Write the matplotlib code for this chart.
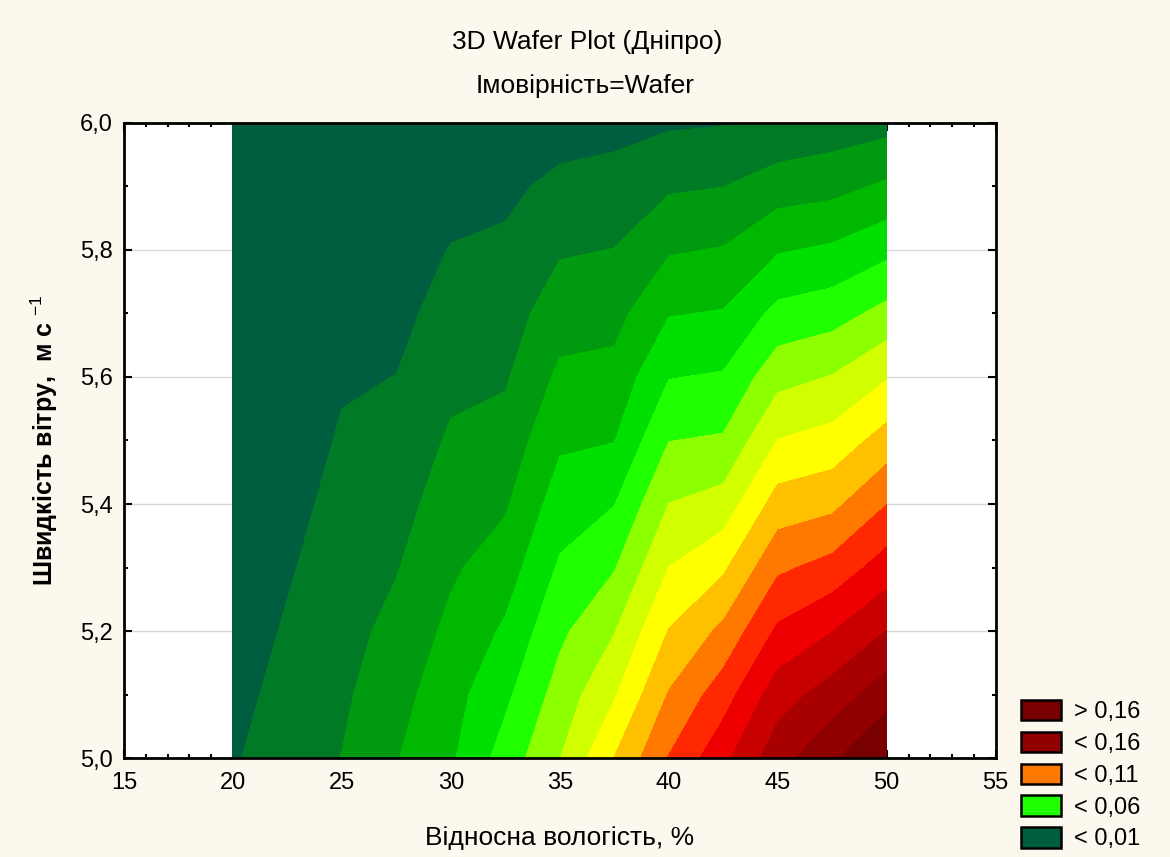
import numpy as np
import matplotlib.pyplot as plt
from matplotlib.patches import Patch
from matplotlib.ticker import MultipleLocator, FuncFormatter

# Grid of the wafer plot: relative humidity (x) and wind speed (y)
humidity = [20, 25, 27.5, 30, 32.5, 35, 37.5, 40, 42.5, 45, 47.5, 50]
wind = [5.0, 5.1, 5.2, 5.3, 5.4, 5.5, 5.6, 5.7, 5.8, 5.9, 6.0]

# Probability, one list per humidity column (wind 5.0 -> 6.0)
p_20 = [0.0091, 0.0073, 0.0054, 0.0035, 0.0015, 0.0000, 0.0000, 0.0000, 0.0000, 0.0000, 0.0000]
p_25 = [0.0202, 0.0183, 0.0165, 0.0146, 0.0128, 0.0109, 0.0091, 0.0072, 0.0054, 0.0035, 0.0017]
p_275 = [0.0295, 0.0263, 0.0229, 0.0194, 0.0163, 0.0132, 0.0101, 0.0072, 0.0054, 0.0036, 0.0018]
p_30 = [0.0385, 0.0361, 0.0323, 0.0285, 0.0249, 0.0213, 0.0176, 0.0140, 0.0104, 0.0067, 0.0031]
p_325 = [0.0543, 0.0479, 0.0415, 0.0350, 0.0288, 0.0237, 0.0189, 0.0153, 0.0116, 0.0080, 0.0045]
p_35 = [0.0698, 0.0640, 0.0579, 0.0514, 0.0449, 0.0384, 0.0320, 0.0255, 0.0190, 0.0123, 0.0058]
p_375 = [0.0902, 0.0790, 0.0695, 0.0593, 0.0497, 0.0397, 0.0332, 0.0266, 0.0202, 0.0136, 0.0070]
p_40 = [0.1105, 0.1007, 0.0904, 0.0801, 0.0701, 0.0598, 0.0496, 0.0394, 0.0290, 0.0187, 0.0087]
p_425 = [0.1272, 0.1154, 0.1023, 0.0883, 0.0741, 0.0612, 0.0510, 0.0407, 0.0306, 0.0199, 0.0095]
p_45 = [0.1460, 0.1354, 0.1218, 0.1081, 0.0944, 0.0803, 0.0666, 0.0529, 0.0391, 0.0251, 0.0114]
p_475 = [0.1584, 0.1445, 0.1297, 0.1135, 0.0975, 0.0837, 0.0705, 0.0558, 0.0416, 0.0268, 0.0142]
p_50 = [0.1716, 0.1557, 0.1402, 0.1248, 0.1098, 0.0942, 0.0793, 0.0632, 0.0475, 0.0317, 0.0165]

# contour levels and band colours (dark green -> dark red)
level_edges = [0.01, 0.02, 0.03, 0.04, 0.05, 0.06, 0.07, 0.08,
               0.09, 0.10, 0.11, 0.12, 0.13, 0.14, 0.15, 0.16]
band_colors = ['#005e40', '#007a25', '#009a10', '#00b800', '#00e000', '#20ff00',
               '#8cff00', '#d2ff00', '#ffff00', '#ffc000', '#ff7800', '#ff2800',
               '#ee0000', '#c80000', '#a80000', '#900000', '#780000']

legend_labels = ['> 0,16', '< 0,16', '< 0,11', '< 0,06', '< 0,01']
legend_bands = [16, 15, 10, 5, 0]

plt.rcParams['font.family'] = ['Liberation Sans', 'DejaVu Sans']
plt.rcParams['mathtext.fontset'] = 'custom'
plt.rcParams['mathtext.rm'] = 'Liberation Sans'
plt.rcParams['mathtext.it'] = 'Liberation Sans'
plt.rcParams['mathtext.bf'] = 'Liberation Sans:bold'

fig = plt.figure(figsize=(11.7, 8.57), dpi=100, facecolor='#fdf8ee')
ax = fig.add_axes([0.106, 0.1155, 0.745, 0.741])
ax.set_facecolor('white')

prob = np.column_stack([p_20, p_25, p_275, p_30, p_325, p_35, p_375,
                        p_40, p_425, p_45, p_475, p_50])
ax.contourf(humidity, wind, prob, levels=[-1] + level_edges + [1],
            colors=band_colors, zorder=1)

ax.set_xlim(15, 55)
ax.set_ylim(5.0, 6.0)
ax.xaxis.set_major_locator(MultipleLocator(5))
ax.xaxis.set_minor_locator(MultipleLocator(1))
ax.yaxis.set_major_locator(MultipleLocator(0.2))
ax.yaxis.set_minor_locator(MultipleLocator(0.1))
ax.xaxis.set_major_formatter(FuncFormatter(lambda v, p: f'{v:.0f}'))
ax.yaxis.set_major_formatter(FuncFormatter(lambda v, p: f'{v:.1f}'.replace('.', ',')))
ax.yaxis.grid(True, color='#d9d9d9', lw=1)
ax.set_axisbelow(True)

ax.tick_params(which='both', direction='in', top=True, right=True, width=1.5, colors='black')
ax.tick_params(which='major', length=6, labelsize=17)
ax.tick_params(which='minor', length=3)
ax.tick_params(axis='x', pad=10)
ax.tick_params(axis='y', pad=8)
for s in ax.spines.values():
    s.set_linewidth(2)
    s.set_zorder(5)

fig.text(0.502, 1 - 42 / 857, '3D Wafer Plot (Дніпро)', ha='center', va='center', fontsize=19)
fig.text(0.5, 1 - 86 / 857, 'Імовірність=Wafer', ha='center', va='center', fontsize=19)

ax.set_xlabel('Відносна вологість, %', fontsize=19)
ax.xaxis.set_label_coords(0.5, -0.126)
ax.xaxis.label.set_va('center')
ax.set_ylabel('Швидкість вітру,  м с $^{-1}$', fontsize=18, fontweight='bold')
ax.yaxis.set_label_coords(-0.091, 0.5)
ax.yaxis.label.set_va('center')

handles = [Patch(facecolor=band_colors[i], edgecolor='black', linewidth=1.8) for i in legend_bands]
fig.legend(handles, legend_labels, loc='upper left', bbox_to_anchor=(1021 / 1170, 1 - 700 / 857),
           frameon=False, fontsize=17, handlelength=1.7, handleheight=0.95,
           labelspacing=0.36, handletextpad=0.55, borderaxespad=0, borderpad=0)

fig.savefig('out.png', dpi=100, facecolor=fig.get_facecolor())
